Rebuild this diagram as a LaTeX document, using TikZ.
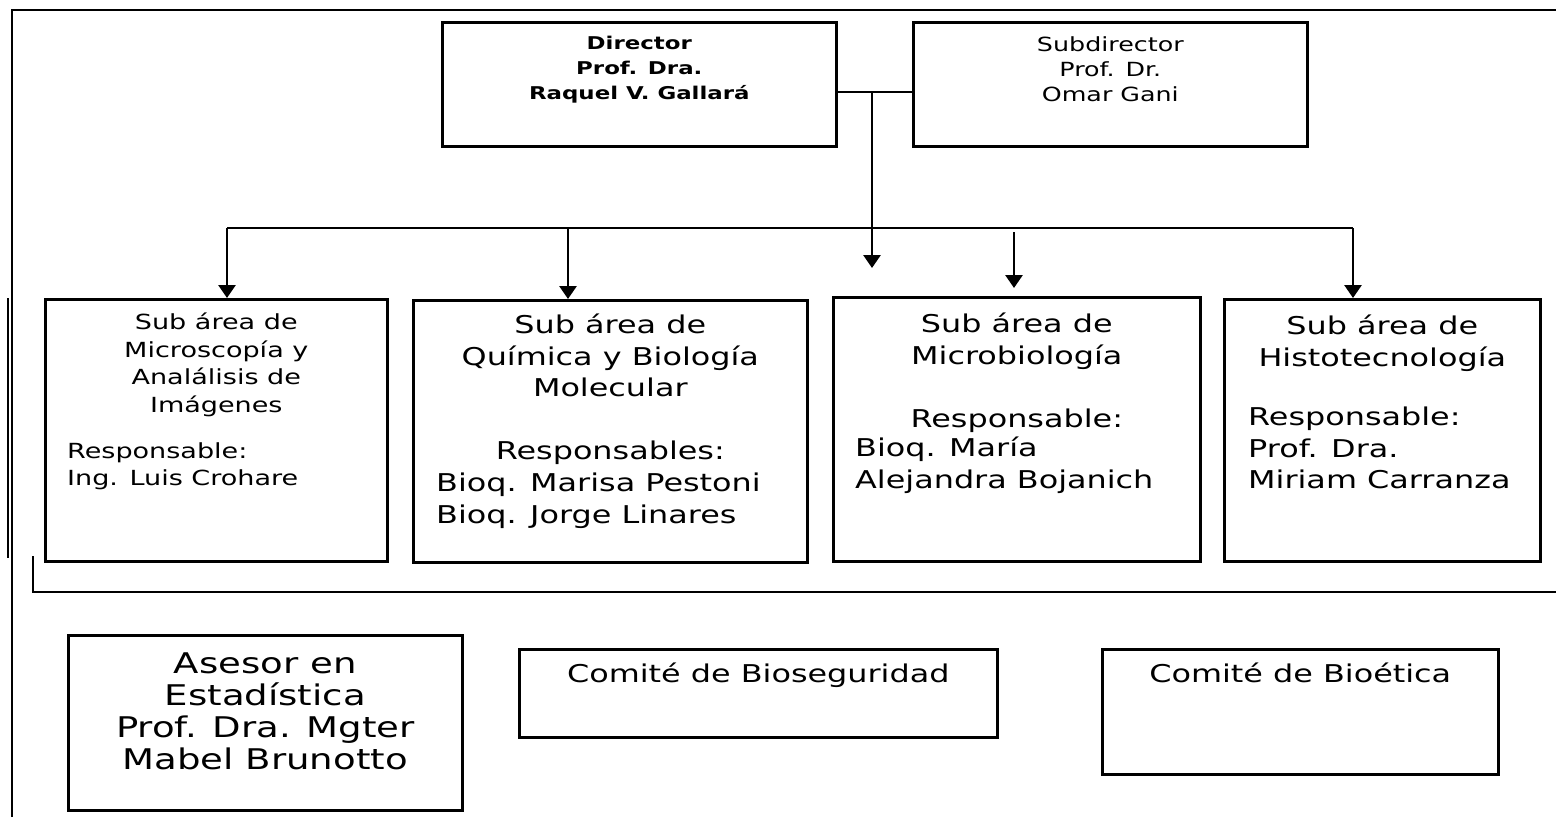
\documentclass[tikz,border=0pt]{standalone}
\usepackage{fontspec}
\setmainfont{DejaVu Sans}[FakeStretch=1.3]
\usetikzlibrary{arrows.meta,positioning,calc}
\tikzset{
  orgbox/.style  = {rectangle, draw, line width=2.6pt, inner sep=0pt, anchor=north west},
  boxtxt/.style  = {inner sep=0pt, align=center, font=\fontsize{24.5}{31.5}\selectfont},
  smalltxt/.style = {boxtxt, font=\fontsize{20.8}{27.5}\selectfont},
  headtxt/.style = {boxtxt, font=\fontsize{19.5}{25}\selectfont},
  boldtxt/.style = {boxtxt, font=\fontsize{17.6}{25}\selectfont\bfseries},
  bigtxt/.style  = {boxtxt, font=\fontsize{28.5}{32}\selectfont},
  lefttxt/.style = {align=left, anchor=north west},
  frame/.style   = {line width=2.6pt},
  link/.style    = {line width=2.8pt},
  conn/.style    = {-{Triangle[length=13pt,width=17pt]}, line width=2.8pt}
}

\begin{document}
\begin{tikzpicture}[x=1pt,y=-1pt]
\useasboundingbox (0,0) rectangle (1556,817);

% --- outer frame ---
\draw[frame] (12,817) -- (12,10) -- (1556,10);
\draw[frame] (8,298) -- (8,558);
\draw[frame] (33,556) -- (33,592) -- (1556,592);

% --- direction ---
\node[orgbox, minimum width=394pt, minimum height=124pt] (dir) at (441,21) {};
\node[orgbox, minimum width=394pt, minimum height=124pt] (subdir) at (912,21) {};
\node[boldtxt, below=15pt of dir.north] (dirtxt) {Director\\Prof. Dra.\\Raquel V. Gallará};
\node[headtxt, below=15pt of subdir.north] (subdirtxt) {Subdirector\\Prof. Dr.\\Omar Gani};

% --- sub areas ---
\node[orgbox, minimum width=342pt, minimum height=262pt] (b1) at (44,298) {};
\node[orgbox, minimum width=394pt, minimum height=262pt] (b2) at (412,299) {};
\node[orgbox, minimum width=367pt, minimum height=264pt] (b3) at (832,296) {};
\node[orgbox, minimum width=316pt, minimum height=262pt] (b4) at (1223,298) {};

\node[smalltxt, below=15pt of b1.north] (b1txt) {Sub área de\\Microscopía y\\Analálisis de\\Imágenes};
\node[smalltxt, lefttxt] (b1resp) at (67,442) {Responsable:\\Ing. Luis Crohare};

\node[boxtxt, below=15pt of b2.north] (b2txt) {Sub área de\\Química y Biología\\Molecular\\[31.5pt]Responsables:};
\node[boxtxt, lefttxt] (b2resp) at (436,473) {Bioq. Marisa Pestoni\\Bioq. Jorge Linares};

\node[boxtxt, below=17pt of b3.north] (b3txt) {Sub área de\\Microbiología\\[31.5pt]Responsable:};
\node[boxtxt, lefttxt] (b3resp) at (855,437) {Bioq. María\\Alejandra Bojanich};

\node[boxtxt, below=17pt of b4.north] (b4txt) {Sub área de\\Histotecnología};
\node[boxtxt, lefttxt] (b4resp) at (1248,407) {Responsable:\\Prof. Dra.\\Miriam Carranza};

% --- advisers and committees ---
\node[orgbox, minimum width=394pt, minimum height=175pt] (ase) at (67,634) {};
\node[orgbox, minimum width=478pt, minimum height=88pt] (biosec) at (518,648) {};
\node[orgbox, minimum width=396pt, minimum height=125pt] (bioet) at (1101,648) {};

\node[bigtxt, below=19pt of ase.north] (asetxt) {Asesor en\\Estadística\\Prof. Dra. Mgter\\Mabel Brunotto};
\node[boxtxt, below=15pt of biosec.north] (biosectxt) {Comité de Bioseguridad};
\node[boxtxt, below=15pt of bioet.north] (bioettxt) {Comité de Bioética};

% --- connections ---
\coordinate (hub) at (872,92);
\coordinate (hubend) at (872,268);
\draw[link] (hub -| dir.east) -- (hub -| subdir.west);
\draw[conn] (hub) -- (hubend);

\coordinate (busl) at (227,228);
\coordinate (busr) at (1353,228);
\draw[link] (busl) -- (busr);

\foreach \x/\b in {227/b1, 568/b2, 1353/b4}{
  \coordinate (tap\b) at (\x,228);
  \draw[conn] (tap\b) -- (tap\b |- \b.north);
}

\coordinate (tapb3) at (1014,232);
\coordinate (endb3) at (1014,288);
\draw[conn] (tapb3) -- (endb3);

\end{tikzpicture}
\end{document}
